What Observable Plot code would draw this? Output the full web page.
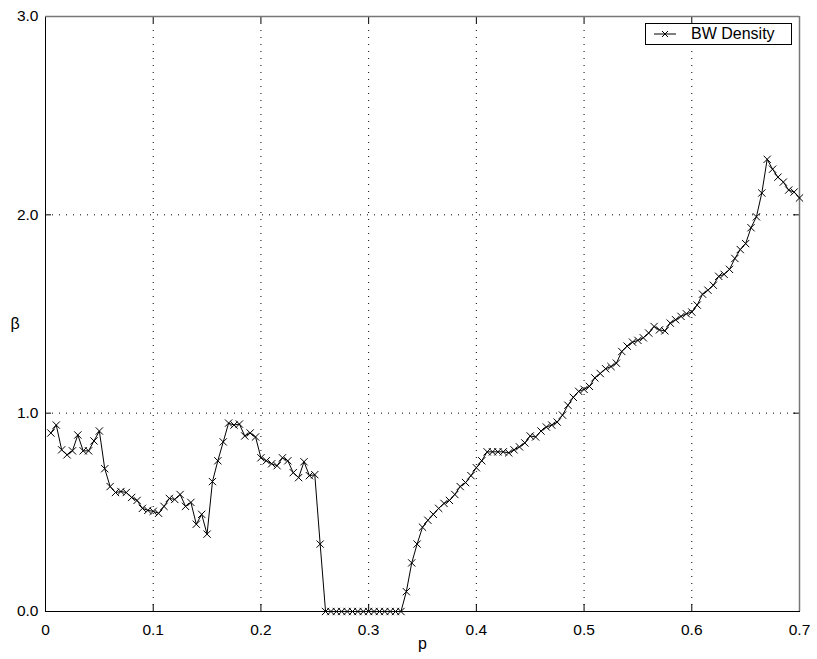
<!DOCTYPE html>
<html>
<head>
<meta charset="utf-8">
<script src="https://cdn.jsdelivr.net/npm/d3@7"></script>
<script src="https://cdn.jsdelivr.net/npm/@observablehq/plot@0.6"></script>
<style>
  body { margin: 0; background: #fff; }
  #wrap { position: relative; width: 817px; height: 659px; }
  #legend {
    position: absolute; left: 645px; top: 23px; width: 147px; height: 22px;
    box-sizing: border-box; border: 1px solid #000; background: #fff;
    font: 16px "Liberation Sans", Arial, sans-serif; color: #000;
    display: flex; align-items: center;
  }
  #legend svg { margin-left: 6px; margin-right: 13px; }
</style>
</head>
<body>
<div id="wrap"></div>
<script>
const pValues = [
  0.005,0.010,0.015,0.020,0.025,0.030,0.035,0.040,0.045,0.050,
  0.055,0.060,0.065,0.070,0.075,0.080,0.085,0.090,0.095,0.100,
  0.105,0.110,0.115,0.120,0.125,0.130,0.135,0.140,0.145,0.150,
  0.155,0.160,0.165,0.170,0.175,0.180,0.185,0.190,0.195,0.200,
  0.205,0.210,0.215,0.220,0.225,0.230,0.235,0.240,0.245,0.250,
  0.255,0.260,0.265,0.270,0.275,0.280,0.285,0.290,0.295,0.300,
  0.305,0.310,0.315,0.320,0.325,0.330,0.335,0.340,0.345,0.350,
  0.355,0.360,0.365,0.370,0.375,0.380,0.385,0.390,0.395,0.400,
  0.405,0.410,0.415,0.420,0.425,0.430,0.435,0.440,0.445,0.450,
  0.455,0.460,0.465,0.470,0.475,0.480,0.485,0.490,0.495,0.500,
  0.505,0.510,0.515,0.520,0.525,0.530,0.535,0.540,0.545,0.550,
  0.555,0.560,0.565,0.570,0.575,0.580,0.585,0.590,0.595,0.600,
  0.605,0.610,0.615,0.620,0.625,0.630,0.635,0.640,0.645,0.650,
  0.655,0.660,0.665,0.670,0.675,0.680,0.685,0.690,0.695,0.700
];
const betaValues = [
  0.90,0.94,0.815,0.79,0.81,0.89,0.81,0.81,0.86,0.91,
  0.72,0.63,0.60,0.605,0.60,0.575,0.56,0.52,0.51,0.505,
  0.495,0.53,0.57,0.565,0.59,0.53,0.55,0.44,0.49,0.39,
  0.655,0.76,0.855,0.95,0.94,0.945,0.885,0.90,0.88,0.775,
  0.76,0.745,0.735,0.775,0.76,0.70,0.675,0.755,0.685,0.69,
  0.34,0,0,0,0,0,0,0,0,0,
  0,0,0,0,0,0,0.10,0.245,0.34,0.425,
  0.46,0.49,0.52,0.545,0.56,0.59,0.63,0.65,0.685,0.725,
  0.76,0.805,0.805,0.805,0.805,0.80,0.815,0.83,0.85,0.885,
  0.88,0.91,0.93,0.94,0.955,0.99,1.04,1.08,1.11,1.12,
  1.135,1.178,1.20,1.224,1.235,1.252,1.311,1.338,1.358,1.367,
  1.38,1.404,1.437,1.42,1.415,1.454,1.471,1.488,1.501,1.51,
  1.545,1.60,1.62,1.645,1.69,1.70,1.725,1.78,1.825,1.855,
  1.935,1.99,2.11,2.28,2.23,2.19,2.165,2.125,2.115,2.085
];
const seriesName = "BW Density";
const xTicks = [0, 0.1, 0.2, 0.3, 0.4, 0.5, 0.6, 0.7];
const xTickLabels = ["0", "0.1", "0.2", "0.3", "0.4", "0.5", "0.6", "0.7"];
const yTicks = [0, 1, 2, 3];
const yTickLabels = ["0.0", "1.0", "2.0", "3.0"];
const xGrid = [0.1, 0.2, 0.3, 0.4, 0.5, 0.6];
const yGrid = [1, 2];
const xLabel = "p";
const yLabel = "β";

const data = pValues.map((p, i) => ({p, beta: betaValues[i]}));
const font = '"Liberation Sans", Arial, sans-serif';

const chart = Plot.plot({
  width: 817,
  height: 659,
  marginLeft: 45,
  marginRight: 18,
  marginTop: 16,
  marginBottom: 48,
  x: {domain: [0, 0.7]},
  y: {domain: [0, 3]},
  style: {fontFamily: font, fontSize: "15px", background: "#fff", color: "#000", overflow: "visible"},
  marks: [
    Plot.gridX(xGrid, {stroke: "#000", strokeOpacity: 1, strokeDasharray: "1,6"}),
    Plot.gridY(yGrid, {stroke: "#000", strokeOpacity: 1, strokeDasharray: "1,6"}),
    Plot.tickX(xTicks, {x: d => d, insetTop: 588, stroke: "#000"}),
    Plot.tickX(xTicks, {x: d => d, insetBottom: 588, stroke: "#000"}),
    Plot.tickY(yTicks, {y: d => d, insetRight: 748, stroke: "#000"}),
    Plot.tickY(yTicks, {y: d => d, insetLeft: 748, stroke: "#000"}),
    Plot.axisX(xTicks, {tickSize: 0, tickPadding: 12, label: null, fontSize: 15.5,
      tickFormat: d => xTickLabels[xTicks.indexOf(d)]}),
    Plot.axisY(yTicks, {tickSize: 0, tickPadding: 7, label: null, fontSize: 15.5,
      tickFormat: d => yTickLabels[yTicks.indexOf(d)]}),
    Plot.frame({stroke: "#000"}),
    Plot.ruleY([3], {stroke: "#777", strokeWidth: 1.5}),
    Plot.ruleX([0.7], {stroke: "#777", strokeWidth: 1.5}),
    Plot.line(data, {x: "p", y: "beta", stroke: "#000", strokeWidth: 1}),
    Plot.dot(data, {x: "p", y: "beta", symbol: "times", r: 3.4, stroke: "#000", strokeWidth: 1}),
    Plot.text([xLabel], {text: d => d, frameAnchor: "bottom", dy: 37, fontSize: 16}),
    Plot.text([yLabel], {text: d => d, frameAnchor: "left", dx: -35, dy: 10, fontSize: 16})
  ]
});

const wrap = document.getElementById("wrap");
wrap.appendChild(chart);

const legend = document.createElement("div");
legend.id = "legend";
legend.innerHTML = `<svg width="26" height="10"><line x1="2" y1="5" x2="24" y2="5" stroke="#000"/><path d="M10,2L16,8M16,2L10,8" stroke="#000"/></svg><span>${seriesName}</span>`;
wrap.appendChild(legend);
</script>
</body>
</html>
